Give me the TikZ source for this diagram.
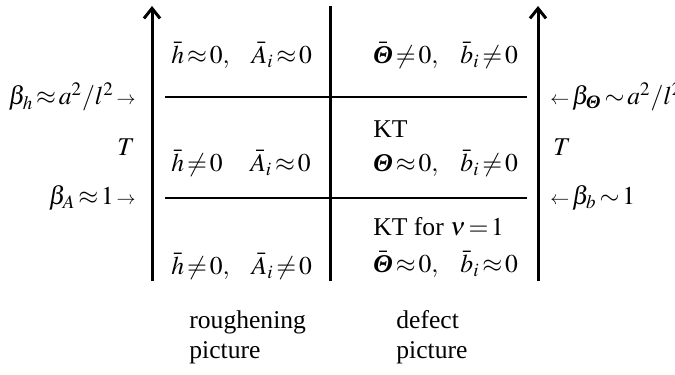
\documentclass[tikz,border=0pt]{standalone}
\usepackage{amsmath}
\usepackage{mathptmx}
\usepackage{fontspec}
\setmainfont{Liberation Serif}
\usetikzlibrary{positioning,arrows.meta}
\newcommand{\ThIt}{\mathord{\text{\bfseries\itshape Θ}}}
\newcommand{\gapp}{\hspace{0.75em}}
\newcommand{\rarr}{\mathrel{\scriptstyle\rightarrow}}
\newcommand{\larr}{\mathrel{\scriptstyle\leftarrow}}

\begin{document}
\begin{tikzpicture}[x=0.5pt,y=-0.5pt,font=\fontsize{12.8}{15}\selectfont,
  axis/.style={line width=1.5pt},
  sep/.style={line width=0.7pt},
  cell/.style={inner sep=1pt}]
  \useasboundingbox (0,0) rectangle (675,375);
  % axes and the middle bar
  \coordinate (lbot) at (152,281); \coordinate (ltop) at (152,6);
  \coordinate (mbot) at (330,281); \coordinate (mtop) at (330,6);
  \coordinate (rbot) at (538,281); \coordinate (rtop) at (538,6);
  \draw[axis,-{Straight Barb[length=5pt,width=8pt]}] (lbot) -- (ltop);
  \draw[axis] (mbot) -- (mtop);
  \draw[axis,-{Straight Barb[length=5pt,width=8pt]}] (rbot) -- (rtop);
  % phase boundaries
  \foreach \y/\n in {97/hi,198/lo}{
    \coordinate (\n l) at (165,\y); \coordinate (\n r) at (527,\y);
    \draw[sep] (\n l) -- (\n r);
    \draw[line width=1.2pt] (318,\y) -- (338,\y);
  }
  % left scale
  \node[cell,anchor=east] (bh) at (138,97) {$\beta_h\!\approx\! a^2/l^2\!\rarr$};
  \node[cell] (tl) at (126,147) {$T$};
  \node[cell,anchor=east] (ba) at (138,198) {$\beta_A\!\approx\! 1\!\rarr$};
  % right scale
  \node[cell,anchor=west] (bt) at (548,97) {$\larr\!\beta_{\ThIt}\!\sim\! a^2/l^2$};
  \node[cell,anchor=west] (tr) at (551,147) {$T$};
  \node[cell,anchor=west] (bb) at (548,198) {$\larr\!\beta_b\!\sim\! 1$};
  % roughening picture
  \node[cell,anchor=west] (r1) at (169,55) {$\bar h\!\approx\!0,\gapp \bar A_i\!\approx\!0$};
  \node[cell,anchor=west] (r2) at (169,163) {$\bar h\!\neq\!0\gapp\;\, \bar A_i\!\approx\!0$};
  \node[cell,anchor=west] (r3) at (169,266) {$\bar h\!\neq\!0,\gapp \bar A_i\!\neq\!0$};
  % defect picture
  \node[cell,anchor=west] (d1) at (371,55) {$\bar\ThIt\!\neq\!0,\gapp \bar b_i\!\neq\!0$};
  \node[cell,anchor=west] (k2) at (371,129) {KT};
  \node[cell,anchor=west] (d2) at (371,163) {$\ThIt\!\approx\!0,\gapp \bar b_i\!\neq\!0$};
  \node[cell,anchor=west] (k3) at (371,227) {KT for $\nu\!=\!1$};
  \node[cell,anchor=west] (d3) at (371,264) {$\bar\ThIt\!\approx\!0,\gapp \bar b_i\!\approx\!0$};
  % captions
  \node[cell,anchor=west,align=left] (cr) at (187,337) {roughening\\picture};
  \node[cell,anchor=west,align=left] (cd) at (394,337) {defect\\picture};
\end{tikzpicture}
\end{document}
